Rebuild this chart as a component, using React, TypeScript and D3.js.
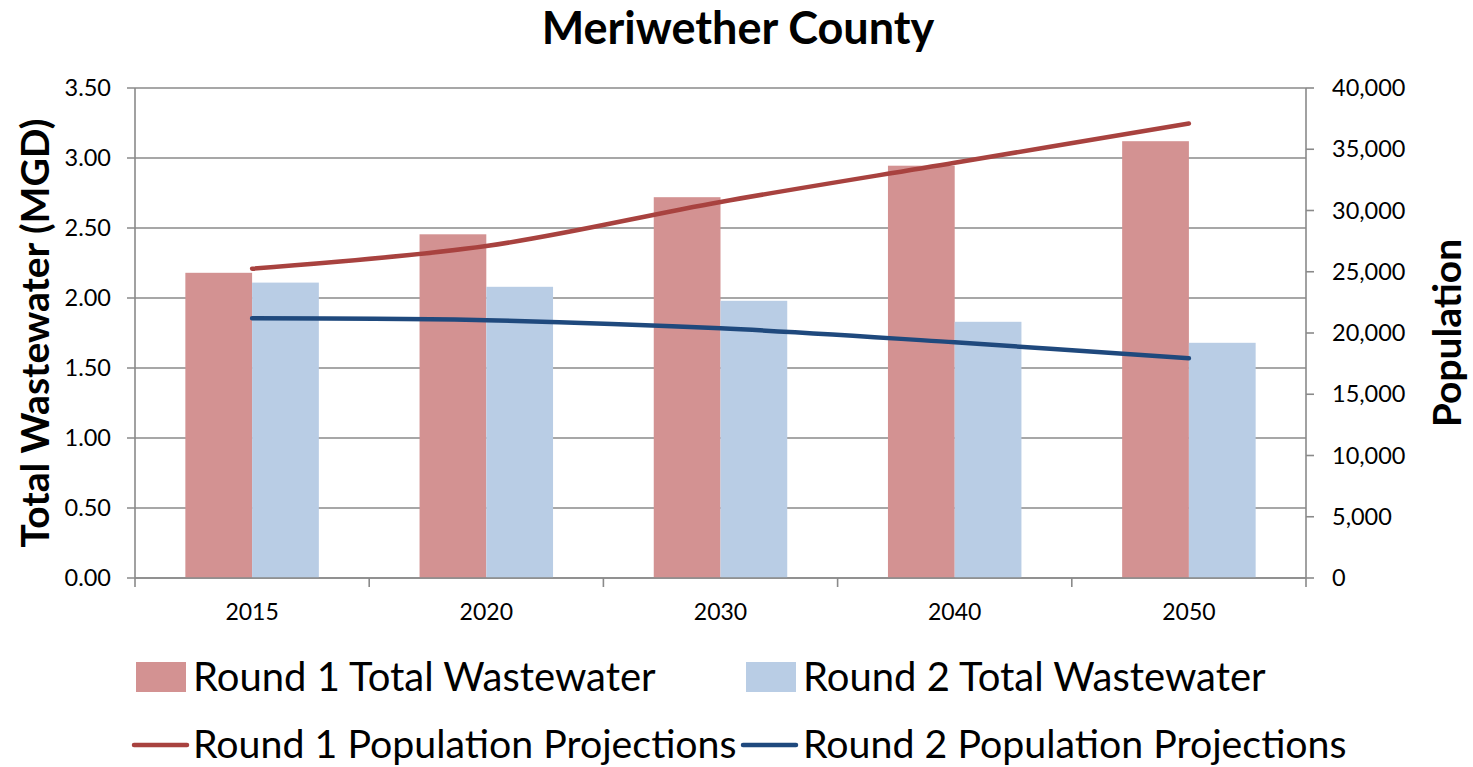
import React from "react";
import * as d3 from "d3";

const years = ["2015", "2020", "2030", "2040", "2050"];
const round1Wastewater = [2.18, 2.455, 2.72, 2.945, 3.12];
const round2Wastewater = [2.11, 2.08, 1.98, 1.83, 1.68];
const round1Population = [25250, 27100, 30700, 33900, 37100];
const round2Population = [21200, 21050, 20380, 19240, 17930];
const leftTicks = [0, 0.5, 1, 1.5, 2, 2.5, 3, 3.5];
const rightTicks = [0, 5000, 10000, 15000, 20000, 25000, 30000, 35000, 40000];

const W = 1473, H = 767;
const M = { left: 135, right: 1306, top: 88, bottom: 578 };
const FONT = "Lato, 'Open Sans', sans-serif";
const C = {
  bar1: "#D39292",
  bar2: "#B9CDE5",
  line1: "#A8423F",
  line2: "#1F497D",
  grid: "#8A8A8A",
};

export default function App() {
  const x = d3.scaleBand().domain(years).range([M.left, M.right]).paddingInner(0).paddingOuter(0);
  const yL = d3.scaleLinear().domain([0, 3.5]).range([M.bottom, M.top]);
  const yR = d3.scaleLinear().domain([0, 40000]).range([M.bottom, M.top]);
  const bw = x.bandwidth();
  const barW = bw * 0.285;
  const cx = (d: string) => (x(d) as number) + bw / 2;
  const line = d3
    .line<number>()
    .x((_, i) => cx(years[i]))
    .y((v) => yR(v))
    .curve(d3.curveCatmullRom.alpha(0.5));
  const fmt = d3.format(",");

  return (
    <svg width={W} height={H} style={{ position: "fixed", left: 0, top: 0, background: "#fff" }} fontFamily={FONT}>
      <rect width={W} height={H} fill="#fff" />
      <text x={738} y={44} textAnchor="middle" fontSize={45} fontWeight="bold" fill="#000">
        Meriwether County
      </text>
      {/* gridlines */}
      {leftTicks.map((t) => (
        <line key={"g" + t} x1={M.left - 8} x2={M.right} y1={yL(t)} y2={yL(t)} stroke={C.grid} strokeWidth={1.6} />
      ))}
      {/* bars */}
      {years.map((yv, i) => (
        <g key={yv}>
          <rect x={cx(yv) - barW} y={yL(round1Wastewater[i])} width={barW} height={M.bottom - yL(round1Wastewater[i])} fill={C.bar1} />
          <rect x={cx(yv)} y={yL(round2Wastewater[i])} width={barW} height={M.bottom - yL(round2Wastewater[i])} fill={C.bar2} />
        </g>
      ))}
      {/* axes */}
      <line x1={M.left} x2={M.left} y1={M.top} y2={M.bottom} stroke={C.grid} strokeWidth={1.6} />
      <line x1={M.right} x2={M.right} y1={M.top} y2={M.bottom} stroke={C.grid} strokeWidth={1.6} />
      <line x1={M.left} x2={M.right} y1={M.bottom} y2={M.bottom} stroke={C.grid} strokeWidth={1.6} />
      {rightTicks.map((t) => (
        <line key={"rt" + t} x1={M.right} x2={M.right + 8} y1={yR(t)} y2={yR(t)} stroke={C.grid} strokeWidth={1.6} />
      ))}
      {years.map((yv) => (
        <line key={"xt" + yv} x1={x(yv) as number} x2={x(yv) as number} y1={M.bottom} y2={M.bottom + 9} stroke={C.grid} strokeWidth={1.6} />
      ))}
      <line x1={M.right} x2={M.right} y1={M.bottom} y2={M.bottom + 9} stroke={C.grid} strokeWidth={1.6} />
      {/* lines */}
      <path d={line(round1Population) || ""} fill="none" stroke={C.line1} strokeWidth={4.5} strokeLinecap="round" />
      <path d={line(round2Population) || ""} fill="none" stroke={C.line2} strokeWidth={4.5} strokeLinecap="round" />
      {/* tick labels */}
      {leftTicks.map((t) => (
        <text key={"lt" + t} x={111} y={yL(t)} dy="0.35em" textAnchor="end" fontSize={23.5} fill="#000">
          {t.toFixed(2)}
        </text>
      ))}
      {rightTicks.map((t) => (
        <text key={"rl" + t} x={1332} y={yR(t)} dy="0.35em" textAnchor="start" fontSize={23.5} fill="#000">
          {fmt(t)}
        </text>
      ))}
      {years.map((yv) => (
        <text key={"xl" + yv} x={cx(yv)} y={620} textAnchor="middle" fontSize={23} fill="#000">
          {yv}
        </text>
      ))}
      {/* axis titles */}
      <text transform={`translate(49,333) rotate(-90)`} textAnchor="middle" fontSize={39} fontWeight="bold" fill="#000">
        Total Wastewater (MGD)
      </text>
      <text transform={`translate(1461,333) rotate(-90)`} textAnchor="middle" fontSize={39} fontWeight="bold" fill="#000">
        Population
      </text>
      {/* legend */}
      <rect x={136} y={662} width={50} height={30} fill={C.bar1} />
      <text x={193} y={691} fontSize={40} fill="#000">Round 1 Total Wastewater</text>
      <rect x={746} y={662} width={50} height={30} fill={C.bar2} />
      <text x={803} y={691} fontSize={40} fill="#000">Round 2 Total Wastewater</text>
      <line x1={134} x2={187} y1={745} y2={745} stroke={C.line1} strokeWidth={4.5} strokeLinecap="round" />
      <text x={193} y={758} fontSize={39.3} fill="#000">Round 1 Population Projections</text>
      <line x1={743} x2={796} y1={745} y2={745} stroke={C.line2} strokeWidth={4.5} strokeLinecap="round" />
      <text x={803} y={758} fontSize={39.3} fill="#000">Round 2 Population Projections</text>
    </svg>
  );
}
